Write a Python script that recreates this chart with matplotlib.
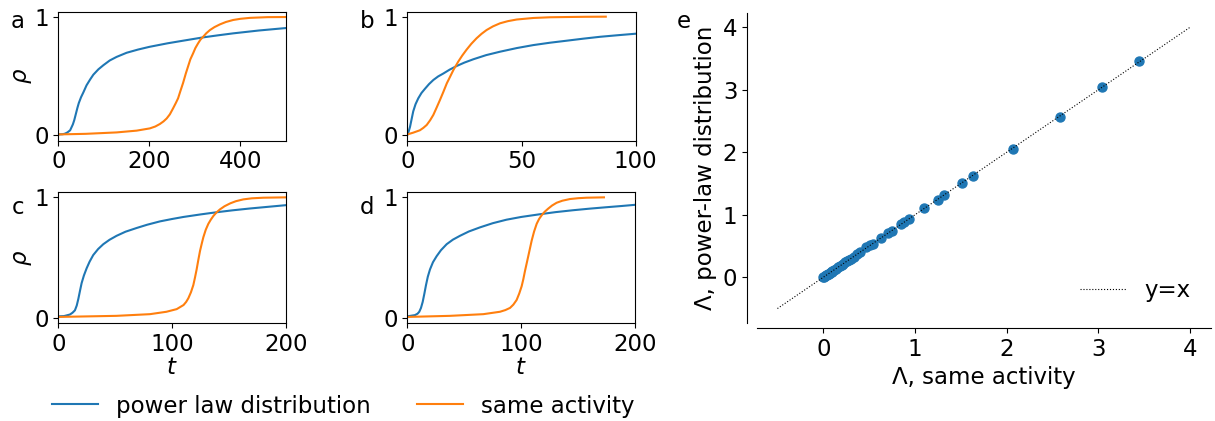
import matplotlib
matplotlib.use('Agg')
import matplotlib.pyplot as plt
import numpy as np

plt.rcParams['font.size'] = 16.5
plt.rcParams['lines.linewidth'] = 1.5

W, H = 1215, 421

# ── curves: (t, rho) ────────────────────────────────────────────────────────
a_pl_t = [0, 10, 15, 20, 26, 29, 32, 35, 37, 42, 45, 48, 50, 55, 62, 70, 77, 88, 99, 113, 128, 150,
          175, 200, 240, 274, 318, 350, 384, 440, 500]
a_pl_r = [0.005, 0.007, 0.012, 0.022, 0.04, 0.065, 0.09, 0.125, 0.155, 0.23, 0.27, 0.30, 0.32, 0.36,
          0.42, 0.47, 0.51, 0.555, 0.59, 0.63, 0.66, 0.695, 0.722, 0.745, 0.775, 0.797, 0.825, 0.842,
          0.859, 0.883, 0.904]
a_sa_t = [0, 60, 128, 172, 201, 213, 223, 231, 238, 245, 252, 258, 263, 268, 274, 280, 285, 290, 296,
          301, 307, 312, 318, 325, 333, 343, 355, 368, 384, 400, 421, 460, 500]
a_sa_r = [0.005, 0.01, 0.022, 0.037, 0.056, 0.072, 0.093, 0.115, 0.14, 0.175, 0.225, 0.27, 0.31, 0.37,
          0.44, 0.52, 0.58, 0.64, 0.69, 0.735, 0.775, 0.805, 0.83, 0.86, 0.887, 0.912, 0.935, 0.955,
          0.972, 0.982, 0.99, 0.996, 0.997]

b_pl_t = [0, 0.6, 1.2, 1.9, 2.6, 3.6, 4.8, 6.2, 7.7, 9.5, 11.4, 13.5, 15.8, 18.5, 21.6, 25, 28.9, 34.5,
          40.6, 48, 55.2, 62.5, 69.8, 77, 84.4, 92, 100]
b_pl_r = [0.0, 0.03, 0.07, 0.135, 0.2, 0.26, 0.31, 0.355, 0.39, 0.43, 0.465, 0.495, 0.52, 0.552, 0.583,
          0.612, 0.64, 0.675, 0.704, 0.735, 0.76, 0.78, 0.797, 0.814, 0.83, 0.843, 0.856]
b_sa_t = [0, 2.6, 5.5, 7, 8.5, 10, 11.4, 12.8, 14.3, 15.8, 17.3, 18.8, 20.2, 22.3, 24, 25.9, 28, 30.3,
          32.5, 34.7, 37.5, 40.6, 44, 47.9, 55.2, 62.5, 69.8, 78, 86.9]
b_sa_r = [0.005, 0.02, 0.04, 0.06, 0.085, 0.125, 0.17, 0.23, 0.296, 0.365, 0.437, 0.495, 0.55, 0.62,
          0.67, 0.72, 0.77, 0.817, 0.855, 0.887, 0.918, 0.944, 0.962, 0.976, 0.989, 0.995, 0.997,
          0.999, 1.0]

c_pl_t = [0, 5, 10.2, 12.5, 14.6, 16.2, 17.6, 19, 20.5, 22.5, 24.9, 27.5, 30.7, 35, 39.5, 45, 51.2, 59,
          68.8, 78, 89.3, 100, 110, 125, 139, 153, 168, 184, 200]
c_pl_r = [0.01, 0.012, 0.025, 0.04, 0.06, 0.1, 0.155, 0.22, 0.287, 0.35, 0.41, 0.465, 0.52, 0.57, 0.61,
          0.647, 0.68, 0.714, 0.745, 0.772, 0.80, 0.82, 0.837, 0.858, 0.876, 0.892, 0.907, 0.921, 0.935]
c_sa_t = [0, 51, 80.5, 95, 104, 110, 112.3, 114.2, 116.5, 118.6, 120, 121.5, 123, 124.5, 126, 127.4,
          129.5, 131.8, 134, 136.2, 139, 142, 146, 151, 156, 162.5, 170, 180, 200]
c_sa_r = [0.005, 0.014, 0.028, 0.048, 0.07, 0.104, 0.13, 0.16, 0.21, 0.27, 0.33, 0.40, 0.48, 0.555,
          0.615, 0.668, 0.73, 0.78, 0.815, 0.845, 0.875, 0.90, 0.926, 0.95, 0.968, 0.983, 0.992,
          0.997, 1.0]

d_pl_t = [0, 6.7, 9, 10.5, 12, 13.5, 15, 16.4, 18, 19.9, 22.5, 25.7, 29.5, 34.5, 40, 46.2, 54, 63.7,
          75, 87, 100, 116, 130, 145.6, 160, 174.9, 188, 200]
d_pl_r = [0.01, 0.02, 0.032, 0.048, 0.08, 0.13, 0.2, 0.27, 0.34, 0.40, 0.46, 0.51, 0.56, 0.61, 0.648,
          0.68, 0.716, 0.75, 0.785, 0.814, 0.837, 0.859, 0.877, 0.893, 0.906, 0.918, 0.928, 0.938]
d_sa_t = [0, 37.4, 66.7, 81.3, 86, 90.1, 93, 95.9, 98.2, 100.3, 101.8, 103.2, 104.7, 106.1, 107.6,
          109.1, 111.2, 113.5, 115.6, 117.8, 120.5, 123.7, 127, 131, 136, 142.7, 150, 157.3, 172.5]
d_sa_r = [0.005, 0.014, 0.028, 0.048, 0.062, 0.08, 0.107, 0.146, 0.2, 0.26, 0.32, 0.386, 0.45, 0.51,
          0.575, 0.64, 0.715, 0.78, 0.82, 0.85, 0.88, 0.907, 0.932, 0.955, 0.972, 0.986, 0.993,
          0.997, 1.0]

# ── panel e: Lambda values ──────────────────────────────────────────────────
lam_same = [0.0, 0.01, 0.02, 0.03, 0.04, 0.05, 0.06, 0.07, 0.08, 0.09, 0.10, 0.12, 0.14, 0.16, 0.18,
            0.20, 0.22, 0.24, 0.26, 0.28, 0.30, 0.33, 0.37, 0.40, 0.47, 0.51, 0.54, 0.63, 0.71, 0.75,
            0.85, 0.88, 0.94, 1.10, 1.25, 1.32, 1.51, 1.63, 2.07, 2.58, 3.04, 3.44]
lam_pl = [0.0, 0.01, 0.02, 0.03, 0.04, 0.05, 0.06, 0.07, 0.08, 0.09, 0.10, 0.12, 0.14, 0.16, 0.18,
          0.20, 0.22, 0.24, 0.26, 0.28, 0.30, 0.33, 0.38, 0.41, 0.48, 0.51, 0.54, 0.63, 0.71, 0.74,
          0.86, 0.88, 0.93, 1.11, 1.24, 1.32, 1.51, 1.62, 2.06, 2.57, 3.04, 3.46]
diag = [-0.5, 4]

panels = [
    ('a', (58.3, 11.7, 286, 140.7), a_pl_t, a_pl_r, a_sa_t, a_sa_r, [0, 500], [0, 200, 400], False),
    ('b', (407.3, 11.7, 635.7, 140.7), b_pl_t, b_pl_r, b_sa_t, b_sa_r, [0, 100], [0, 50, 100], False),
    ('c', (58.3, 192.3, 286, 323.3), c_pl_t, c_pl_r, c_sa_t, c_sa_r, [0, 200], [0, 100, 200], True),
    ('d', (407.3, 192.3, 635.3, 323.3), d_pl_t, d_pl_r, d_sa_t, d_sa_r, [0, 200], [0, 100, 200], True),
]
letter_pos = {'a': (18, 22), 'b': (367, 22), 'c': (18, 207), 'd': (367, 207), 'e': (684, 22)}

def px_axes(fig, l, t, r, b):
    return fig.add_axes([l / W, 1 - b / H, (r - l) / W, (b - t) / H])

fig = plt.figure(figsize=(W / 100, H / 100), dpi=100)

for name, box, pt, pr, st, sr, xl, xt, show_t in panels:
    ax = px_axes(fig, *box)
    l1, = ax.plot(pt, pr, color='tab:blue', label='power law distribution')
    l2, = ax.plot(st, sr, color='tab:orange', label='same activity')
    ax.set_xlim(xl)
    ax.set_xticks(xt)
    ax.set_yticks([0, 1])
    ax.set_ylim(-0.048, 1.042)
    if name in ('a', 'c'):
        ax.set_ylabel(r'$\rho$', labelpad=0)
    if show_t:
        ax.set_xlabel(r'$t$', labelpad=0)

for k, (x, y) in letter_pos.items():
    fig.text(x / W, 1 - y / H, k, ha='center', va='center')

fig.legend([l1, l2], ['power law distribution', 'same activity'], ncol=2, frameon=False,
           loc='center', bbox_to_anchor=(343.5 / W, 1 - 406 / H))

# ── panel e ────────────────────────────────────────────────────────────────
axe = px_axes(fig, 756.8, 13.2, 1210.7, 322.6)
axe.scatter(lam_same, lam_pl, s=42, color='tab:blue', zorder=2)
axe.plot(diag, diag, color='black', linestyle=':', linewidth=0.8, label='y=x', zorder=3)
axe.set_xlim(-0.725, 4.225)
axe.set_ylim(-0.725, 4.225)
axe.set_xticks([0, 1, 2, 3, 4])
axe.set_yticks([0, 1, 2, 3, 4])
axe.spines['top'].set_visible(False)
axe.spines['right'].set_visible(False)
axe.spines['left'].set_position(('outward', 7))
axe.spines['bottom'].set_position(('outward', 4))
axe.set_xlabel('Λ, same activity')
axe.set_ylabel('Λ, power-law distribution')
axe.legend(loc='lower right', frameon=False)

fig.savefig('out.png', dpi=100)
